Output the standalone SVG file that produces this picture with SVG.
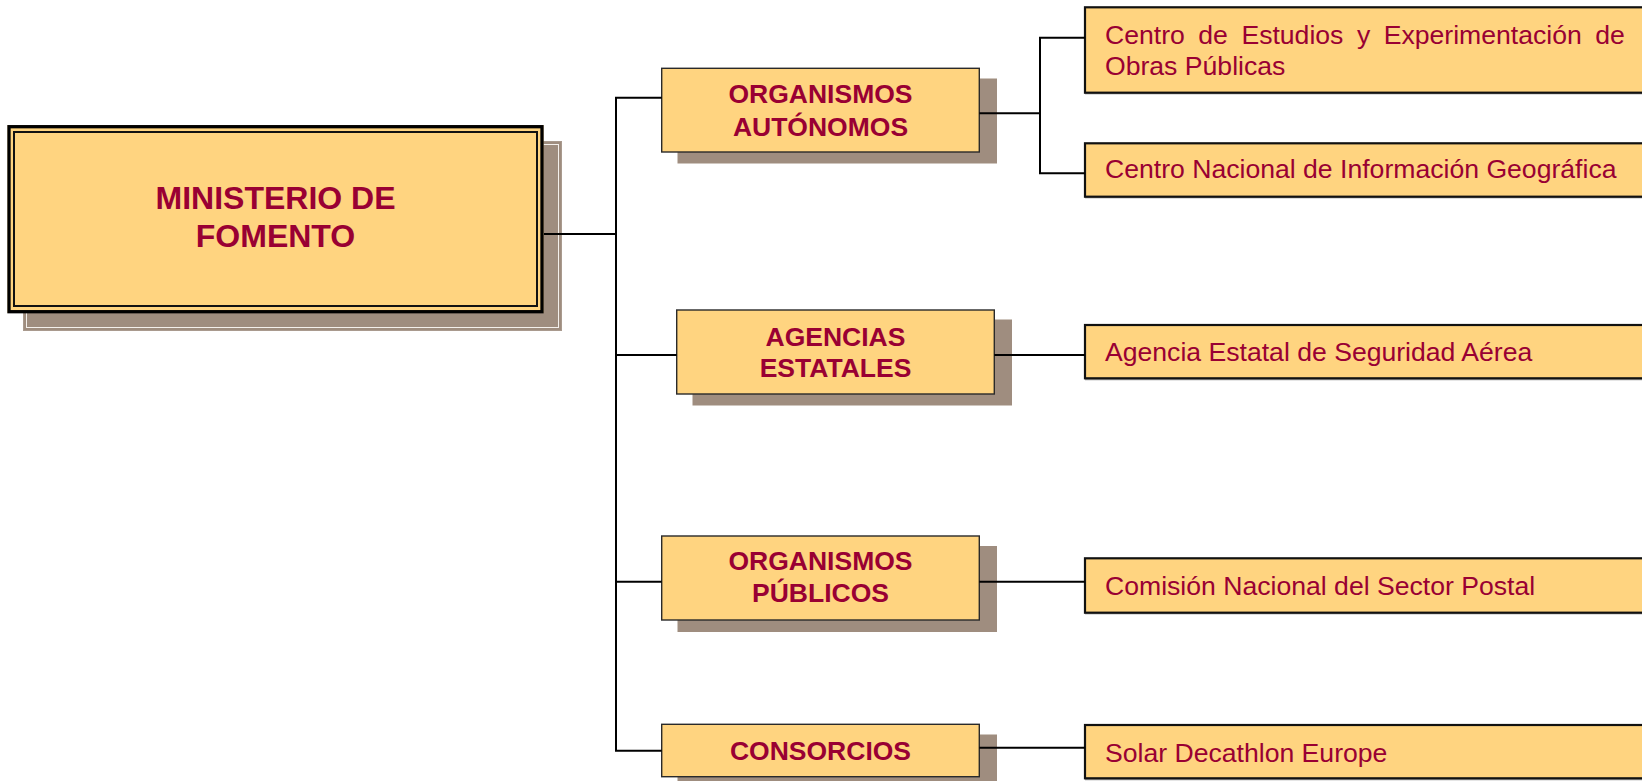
<svg xmlns="http://www.w3.org/2000/svg" width="1642" height="781" viewBox="0 0 1642 781">
<style>
.box{fill:#FFD480;stroke:#2a2a2a;stroke-width:1.4}
.rbox{fill:#FFD480;stroke:#111;stroke-width:2.2}
.sh{fill:#9F8D7F}
.lbl{font-family:"Liberation Sans",Arial,sans-serif;font-weight:bold;font-size:26.5px;fill:#990033;text-anchor:middle}
.main{font-family:"Liberation Sans",Arial,sans-serif;font-weight:bold;font-size:32px;fill:#990033;text-anchor:middle}
.txt{font-family:"Liberation Sans",Arial,sans-serif;font-size:26.6px;fill:#990033}
.conn{fill:none;stroke:#000;stroke-width:2}
</style>
<rect width="1642" height="781" fill="#fff"/>

<g id="ministerio">
  <rect x="23.5" y="141.5" width="538" height="189" fill="#9F8D7F" stroke="#A99A8E" stroke-width="1"/>
  <rect x="26.5" y="144.5" width="532" height="183" fill="none" stroke="#F4F0EC" stroke-width="1"/>
  <rect x="7.5" y="125" width="536" height="188" fill="#FFD480"/>
  <rect x="9" y="126.7" width="533" height="185" fill="none" stroke="#000" stroke-width="3.3"/>
  <rect x="14" y="132" width="523" height="174" fill="none" stroke="#111" stroke-width="2"/>
  <text class="main" x="275.5" y="209.3">MINISTERIO DE</text>
  <text class="main" x="275.5" y="246.7">FOMENTO</text>
</g>

<g id="org-autonomos">
  <rect class="sh" x="677.5" y="78.5" width="319.5" height="85"/>
  <rect class="box" x="661.7" y="68.3" width="317.6" height="83.7"/>
  <text class="lbl" x="820.5" y="103.3">ORGANISMOS</text>
  <text class="lbl" x="820.5" y="135.7">AUTÓNOMOS</text>
</g>

<g id="agencias">
  <rect class="sh" x="692.5" y="319.5" width="319.5" height="86"/>
  <rect class="box" x="676.7" y="310" width="317.6" height="84"/>
  <text class="lbl" x="835.5" y="345.7">AGENCIAS</text>
  <text class="lbl" x="835.5" y="377.3">ESTATALES</text>
</g>

<g id="org-publicos">
  <rect class="sh" x="677.5" y="546" width="319.5" height="86"/>
  <rect class="box" x="661.7" y="536" width="317.6" height="84"/>
  <text class="lbl" x="820.5" y="570">ORGANISMOS</text>
  <text class="lbl" x="820.5" y="602.3">PÚBLICOS</text>
</g>

<g id="consorcios">
  <rect class="sh" x="677.5" y="734.5" width="319.5" height="54"/>
  <rect class="box" x="661.7" y="724.3" width="317.6" height="52.4"/>
  <text class="lbl" x="820.5" y="760">CONSORCIOS</text>
</g>

<g id="cedex">
  <rect x="1085" y="9" width="600" height="85.4" fill="#A8A8A8"/>
  <rect class="rbox" x="1085" y="7.3" width="600" height="85.4"/>
  <text class="txt" y="44"><tspan x="1105">Centro</tspan><tspan x="1198.3">de</tspan><tspan x="1241.4">Estudios</tspan><tspan x="1356.9">y</tspan><tspan x="1383.7">Experimentación</tspan><tspan x="1595.3">de</tspan></text>
  <text class="txt" x="1105" y="75">Obras Públicas</text>
</g>

<g id="cnig">
  <rect x="1085" y="145" width="600" height="53.4" fill="#A8A8A8"/>
  <rect class="rbox" x="1085" y="143.3" width="600" height="53.4"/>
  <text class="txt" x="1105" y="178.3">Centro Nacional de Información Geográfica</text>
</g>

<g id="aesa">
  <rect x="1085" y="327" width="600" height="53.3" fill="#A8A8A8"/>
  <rect class="rbox" x="1085" y="325" width="600" height="53.3"/>
  <text class="txt" x="1105" y="361">Agencia Estatal de Seguridad Aérea</text>
</g>

<g id="cnsp">
  <rect x="1085" y="560" width="600" height="54.4" fill="#A8A8A8"/>
  <rect class="rbox" x="1085" y="558.3" width="600" height="54.4"/>
  <text class="txt" x="1105" y="595">Comisión Nacional del Sector Postal</text>
</g>

<g id="solar">
  <rect x="1085" y="727" width="600" height="53.3" fill="#A8A8A8"/>
  <rect class="rbox" x="1085" y="725" width="600" height="53.3"/>
  <text class="txt" x="1105" y="761.5">Solar Decathlon Europe</text>
</g>

<g id="connectors">
  <path class="conn" d="M544 234 H616"/>
  <path class="conn" d="M661.7 97.7 H616 V750.7 H661.7"/>
  <path class="conn" d="M616 355 H676.7"/>
  <path class="conn" d="M616 581.7 H661.7"/>
  <path class="conn" d="M979.3 113.3 H1040"/>
  <path class="conn" d="M1085 37.7 H1040 V173.3 H1085"/>
  <path class="conn" d="M994.3 355 H1085"/>
  <path class="conn" d="M979.3 581.7 H1085"/>
  <path class="conn" d="M979.3 747.7 H1085"/>
</g>
</svg>
